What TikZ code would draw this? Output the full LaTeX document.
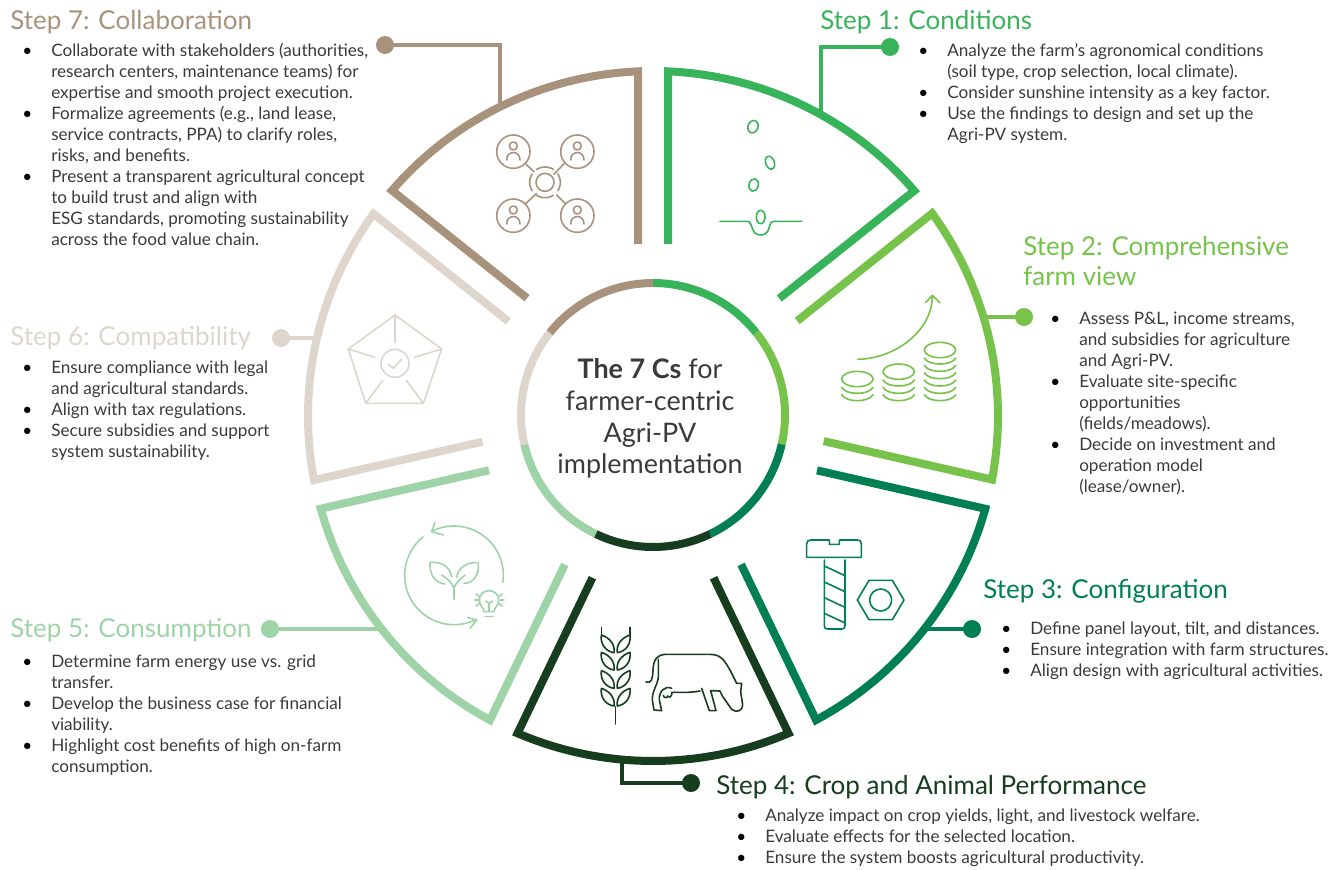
\documentclass[tikz,border=0pt]{standalone}
\usepackage{fontspec}
\setmainfont{Lato}
\definecolor{cA}{HTML}{37B459}
\definecolor{cB}{HTML}{76C24A}
\definecolor{cC}{HTML}{007F52}
\definecolor{cD}{HTML}{163E1E}
\definecolor{cE}{HTML}{9ED3A7}
\definecolor{cF}{HTML}{DED6CC}
\definecolor{cG}{HTML}{A8927C}
\definecolor{bodytxt}{HTML}{3A3A3A}
\newcommand{\bl}[1]{\makebox[21.75pt][l]{\textcolor{black}{\textbullet}}#1}
\newcommand{\ct}[1]{\hspace*{21.75pt}#1}
\tikzset{
  wedge/.style={line width=6pt,miter limit=10},
  ringseg/.style={line width=6pt},
  link/.style={line width=3.7pt},
  dot/.style={circle,inner sep=0pt,minimum size=13.5pt},
  stephead/.style={anchor=west,inner sep=0pt,font=\fontsize{19.5pt}{23pt}\selectfont,align=left},
  stepbody/.style={anchor=north west,inner sep=0pt,align=left,text=bodytxt,font=\fontsize{12.85pt}{15.75pt}\selectfont},
  icon/.style={line width=1.2pt,line cap=round,line join=round},
}
\begin{document}
\begin{tikzpicture}[x=0.75pt,y=-0.75pt]
\useasboundingbox (0,0) rectangle (1341,869);
% connectors
\node[dot,fill=cA] (d1) at (890,47) {};
\node[dot,fill=cB] (d2) at (1024,317) {};
\node[dot,fill=cC] (d3) at (972,629) {};
\node[dot,fill=cD] (d4) at (691,783) {};
\node[dot,fill=cE] (d5) at (270,629) {};
\node[dot,fill=cF] (d6) at (281,338) {};
\node[dot,fill=cG] (d7) at (385,45) {};
\coordinate (a1) at (821,116);
\coordinate (a2) at (984,317);
\coordinate (a3) at (924,629);
\coordinate (a4) at (622,759);
\coordinate (a5) at (382,629);
\coordinate (a6) at (317,338);
\coordinate (a7) at (500,107);
\draw[link,cA] (d1.center) -| (a1);
\draw[link,cB] (d2.center) -- (a2);
\draw[link,cC] (d3.center) -- (a3);
\draw[link,cD] (d4.center) -| (a4);
\draw[link,cE] (d5.center) -- (a5);
\draw[link,cF] (d6.center) -- (a6);
\draw[link,cG] (d7.center) -| (a7);
% wedges and hub ring
\foreach \k/\c/\s/\e in {0/cA/15/13.2,1/cB/15.6/13.5,2/cC/16.5/15,3/cD/15.6/15.6,4/cE/15/16.4,5/cF/12.9/16.2,6/cG/13.6/15}{
\begin{scope}[shift={(653,416)},rotate=-51.42857*\k]
  \pgfmathsetmacro{\aS}{asin(\s/345)}
  \pgfmathsetmacro{\aE}{51.42857-asin(\e/345)}
  \draw[wedge,\c] (\s,-172) -- plot[domain=\aS:\aE,samples=40] ({345*sin(\x)},{-345*cos(\x)}) -- ({172*sin(51.42857)-\e*cos(51.42857)},{-172*cos(51.42857)-\e*sin(51.42857)});
\end{scope}
\begin{scope}[shift={(653,415)},rotate=-51.42857*\k]
  \draw[ringseg,\c] plot[domain=0:51.43,samples=30] ({132*sin(\x)},{-132*cos(\x)});
\end{scope}
}
% centre
\node[align=center,inner sep=0pt,font=\fontsize{20.2pt}{23.7pt}\selectfont,text=bodytxt] (hub) at (650,418.5) {\textbf{The 7 Cs} for\\farmer-centric\\Agri-PV\\implementation};
% Step 1 icon
\begin{scope}[shift={(660,30)},x=0.25pt,y=-0.25pt]
\begin{scope}[icon,cA]
\draw[rotate around={-20:(279,290)}] (279,290) ellipse [x radius=15,y radius=19];
\draw[rotate around={20:(330,398)}] (330,398) ellipse [x radius=13,y radius=20];
\draw[rotate around={-15:(281,465)}] (281,465) ellipse [x radius=14,y radius=19];
\draw (302,561) ellipse [x radius=13,y radius=20];
\draw (180,574) -- (262,574) .. controls (280,574) and (270,615) .. (302,615) .. controls (335,615) and (322,574) .. (342,574) -- (425,574);
\end{scope}
\end{scope}
% Step 2 icon
\begin{scope}[shift={(780,280)},x=0.25pt,y=-0.25pt]
\begin{scope}[icon,cB]
\foreach \cx/\ty/\ys in {232/297/{322,344},356/275/{300,322,344},480/210/{234,256,278,300,322,344}}{
  \draw (\cx,\ty) ellipse [x radius=47,y radius=23];
  \foreach \yy in \ys {\draw (\cx-47,\yy) .. controls (\cx-35,\yy+24) and (\cx+35,\yy+24) .. (\cx+47,\yy);}
}
\draw (233,238) .. controls (350,235) and (457,150) .. (457,48);
\draw (436,68) -- (457,46) -- (480,68);
\end{scope}
\end{scope}
% Step 3 icon
\begin{scope}[shift={(780,520)},x=0.25pt,y=-0.25pt]
\begin{scope}[icon,cC]
\draw (80,112) -- (80,72) .. controls (80,64) and (84,60) .. (92,60) -- (148,60) -- (148,73) -- (178,73) -- (178,60) -- (232,60) .. controls (240,60) and (244,64) .. (244,72) -- (244,112) -- cycle;
\draw (133,120) -- (133,317) .. controls (133,324) and (136,327) .. (143,327) -- (185,327) .. controls (192,327) and (195,324) .. (195,317) -- (195,120);
\foreach \yy in {138,186,233,280}{\draw (133,\yy) -- (195,\yy+29);}
\draw (372,240) -- (337,181) -- (267,181) -- (232,240) -- (267,299) -- (337,299) -- cycle;
\draw (302,240) circle [radius=33];
\end{scope}
\end{scope}
% Step 4 icon
\begin{scope}[shift={(590,620)},x=0.25pt,y=-0.25pt]
\begin{scope}[icon,cD]
\draw (77,260) -- (77,312);
\draw (34,22) -- (34,45);
\draw (120,22) -- (120,45);
\foreach \yy in {45,97,152,205}{
  \draw (34,\yy) .. controls (30,\yy+30) and (50,\yy+50) .. (72,\yy+53) .. controls (76,\yy+30) and (60,\yy+8) .. (34,\yy);
  \draw (120,\yy) .. controls (124,\yy+30) and (104,\yy+50) .. (82,\yy+53) .. controls (78,\yy+30) and (94,\yy+8) .. (120,\yy);
}
\draw (168,186) .. controls (185,192) and (188,175) .. (189,150) .. controls (190,115) and (205,104) .. (225,103) -- (360,103) .. controls (395,103) and (405,125) .. (420,150) -- (440,190) -- (455,190) -- (452,215) -- (458,255) .. controls (458,272) and (440,280) .. (425,268) -- (397,228) -- (390,213) -- (362,212) -- (378,272) -- (358,272) -- (335,205);
\draw (330,213) .. controls (290,220) and (265,216) .. (246,217) .. controls (246,230) and (238,235) .. (233,228) .. controls (230,236) and (222,234) .. (220,226);
\draw (205,118) -- (205,170) .. controls (205,190) and (185,215) .. (187,240) -- (192,270) -- (215,272) -- (208,240) .. controls (206,215) and (225,195) .. (245,205);
\end{scope}
\end{scope}
% Step 5 icon
\begin{scope}[shift={(390,520)},x=0.25pt,y=-0.25pt]
\begin{scope}[icon,cE]
\draw plot[domain=-117:8,samples=50] ({192+148*cos(\x)},{166+148*sin(\x)});
\draw plot[domain=63:231,samples=60] ({192+148*cos(\x)},{166+148*sin(\x)});
\draw (135,8) -- (125,35) -- (160,45);
\draw (232,292) -- (260,300) -- (240,325);
\draw (192,238) -- (192,205) .. controls (188,190) and (175,178) .. (155,165);
\draw (192,205) .. controls (196,190) and (210,178) .. (225,165);
\draw (185,170) .. controls (178,135) and (150,125) .. (120,127) .. controls (118,165) and (135,188) .. (165,192);
\draw (200,172) .. controls (205,140) and (235,125) .. (265,128) .. controls (268,165) and (250,190) .. (222,190);
\draw (282,275) .. controls (282,262) and (268,258) .. (268,240) .. controls (268,222) and (282,212) .. (297,212) .. controls (312,212) and (326,222) .. (326,240) .. controls (326,258) and (312,262) .. (312,275) -- cycle;
\draw (285,289) -- (309,289);
\draw (297,275) -- (297,250);
\draw (287,243) -- (297,250) -- (307,243);
\draw (258,222) -- (267,228);
\draw (255,240) -- (266,240);
\draw (258,258) -- (267,252);
\draw (337,222) -- (328,228);
\draw (342,240) -- (331,240);
\draw (337,258) -- (328,252);
\end{scope}
\end{scope}
% Step 6 icon
\begin{scope}[shift={(335,320)},x=0.25pt,y=-0.25pt]
\begin{scope}[icon,cF]
\draw (180,-15) -- (320,87) -- (265,250) -- (92,250) -- (40,87) -- cycle;
\draw (180,-15) -- (180,68);
\draw (40,87) -- (120,112);
\draw (320,87) -- (238,112);
\draw (92,250) -- (143,182);
\draw (265,250) -- (215,182);
\draw (180,130) circle [radius=42];
\draw (160,133) -- (175,145) -- (200,117);
\end{scope}
\end{scope}
% Step 7 icon
\begin{scope}[shift={(485,125)},x=0.25pt,y=-0.25pt]
\begin{scope}[icon,cG]
\draw (180,172) circle [radius=27];
\foreach \aa in {0,90,180,270}{
  \draw plot[domain=\aa-33:\aa+33,samples=15] ({180+46*cos(\x)},{172+46*sin(\x)});
}
\draw (123,118) -- (147,140);
\draw (238,115) -- (207,148);
\draw (123,235) -- (155,205);
\draw (240,235) -- (215,210);
\foreach \cx/\cy in {85/80,277/80,85/272,277/272}{
  \draw (\cx,\cy) circle [radius=50];
  \draw (\cx,\cy-17) circle [radius=12];
  \draw (\cx-20,\cy+25) .. controls (\cx-20,\cy-5) and (\cx+20,\cy-5) .. (\cx+20,\cy+25);
}
\end{scope}
\end{scope}
% headings
\node[stephead,text=cA] (h1) at (820,22) {Step 1: Conditions};
\node[stephead,text=cB] (h2) at (1023,261) {Step 2: Comprehensive\\farm view};
\node[stephead,text=cC] (h3) at (983,591) {Step 3: Configuration};
\node[stephead,text=cD] (h4) at (716,787) {Step 4: Crop and Animal Performance};
\node[stephead,text=cE] (h5) at (10,630) {Step 5: Consumption};
\node[stephead,text=cF] (h6) at (10,338) {Step 6: Compatibility};
\node[stephead,text=cG] (h7) at (10,22) {Step 7: Collaboration};
% bodies
\node[stepbody] (b1) at (918,43) {\bl{Analyze the farm's agronomical conditions}\\\ct{(soil type, crop selection, local climate).}\\\bl{Consider sunshine intensity as a key factor.}\\\bl{Use the findings to design and set up the}\\\ct{Agri-PV system.}};
\node[stepbody] (b2) at (1050,312) {\bl{Assess P\&L, income streams,}\\\ct{and subsidies for agriculture}\\\ct{and Agri-PV.}\\\bl{Evaluate site-specific}\\\ct{opportunities}\\\ct{(fields/meadows).}\\\bl{Decide on investment and}\\\ct{operation model}\\\ct{(lease/owner).}};
\node[stepbody] (b3) at (1001,622) {\bl{Define panel layout, tilt, and distances.}\\\bl{Ensure integration with farm structures.}\\\bl{Align design with agricultural activities.}};
\node[stepbody] (b4) at (736,809) {\bl{Analyze impact on crop yields, light, and livestock welfare.}\\\bl{Evaluate effects for the selected location.}\\\bl{Ensure the system boosts agricultural productivity.}};
\node[stepbody] (b5) at (22,655) {\bl{Determine farm energy use vs. grid}\\\ct{transfer.}\\\bl{Develop the business case for financial}\\\ct{viability.}\\\bl{Highlight cost benefits of high on-farm}\\\ct{consumption.}};
\node[stepbody] (b6) at (22,361) {\bl{Ensure compliance with legal}\\\ct{and agricultural standards.}\\\bl{Align with tax regulations.}\\\bl{Secure subsidies and support}\\\ct{system sustainability.}};
\node[stepbody] (b7) at (22,43) {\bl{Collaborate with stakeholders (authorities,}\\\ct{research centers, maintenance teams) for}\\\ct{expertise and smooth project execution.}\\\bl{Formalize agreements (e.g., land lease,}\\\ct{service contracts, PPA) to clarify roles,}\\\ct{risks, and benefits.}\\\bl{Present a transparent agricultural concept}\\\ct{to build trust and align with}\\\ct{ESG standards, promoting sustainability}\\\ct{across the food value chain.}};
\end{tikzpicture}
\end{document}
